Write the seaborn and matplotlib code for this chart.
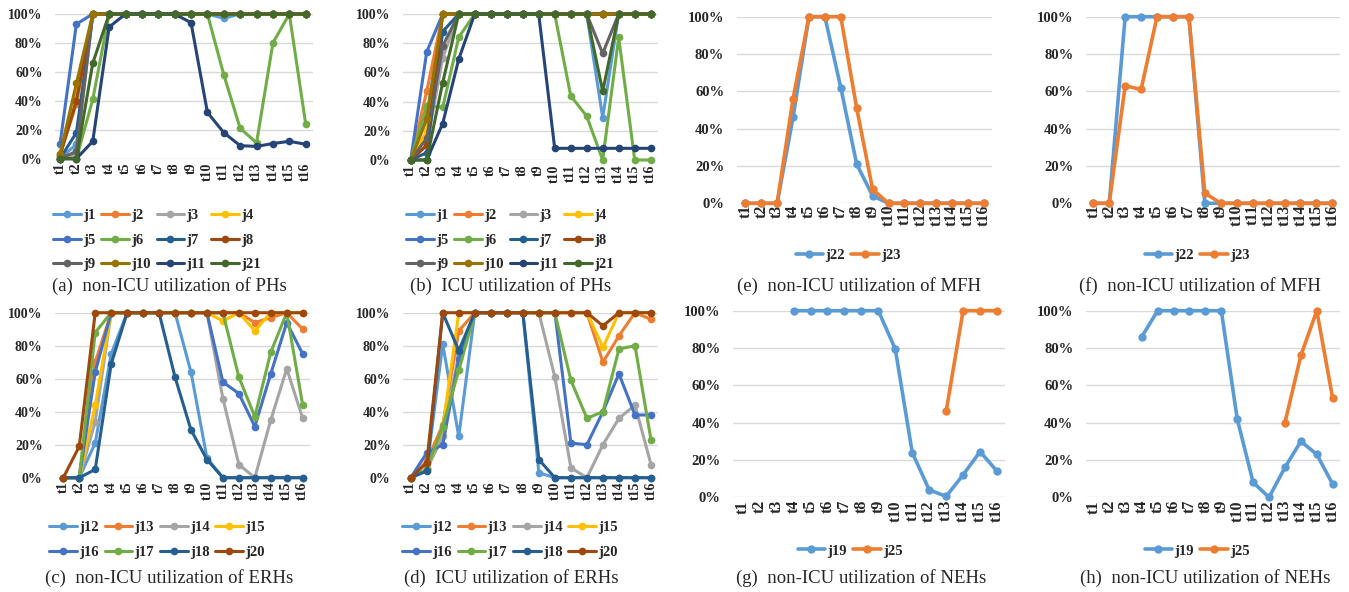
import numpy as np
import pandas as pd
import seaborn as sns
import matplotlib.pyplot as plt
from matplotlib.lines import Line2D
from matplotlib.ticker import PercentFormatter

# time periods on the x axis
periods = ['t%d' % i for i in range(1, 17)]
nan = np.nan

# (a) non-ICU utilization of PHs (%)
a_j1 = [0, 10, 100, 100, 100, 100, 100, 100, 100, 100, 97, 100, 100, 100, 100, 100]
a_j2 = [3, 38, 100, 100, 100, 100, 100, 100, 100, 100, 100, 100, 100, 100, 100, 100]
a_j3 = [0, 3, 100, 100, 100, 100, 100, 100, 100, 100, 100, 100, 100, 100, 100, 100]
a_j4 = [2, 45, 100, 100, 100, 100, 100, 100, 100, 100, 100, 100, 100, 100, 100, 100]
a_j5 = [10, 93, 100, 100, 100, 100, 100, 100, 100, 100, 100, 100, 100, 100, 100, 100]
a_j6 = [0, 0, 41, 100, 100, 100, 100, 100, 100, 100, 58, 21, 11, 80, 100, 24]
a_j7 = [0, 18, 100, 100, 100, 100, 100, 100, 100, 100, 100, 100, 100, 100, 100, 100]
a_j8 = [2, 40, 100, 100, 100, 100, 100, 100, 100, 100, 100, 100, 100, 100, 100, 100]
a_j9 = [0, 5, 100, 100, 100, 100, 100, 100, 100, 100, 100, 100, 100, 100, 100, 100]
a_j10 = [3, 52, 100, 100, 100, 100, 100, 100, 100, 100, 100, 100, 100, 100, 100, 100]
a_j11 = [0, 0, 12, 91, 100, 100, 100, 100, 94, 32, 18, 9, 8.5, 10.5, 12, 10]
a_j21 = [0, 0, 66, 100, 100, 100, 100, 100, 100, 100, 100, 100, 100, 100, 100, 100]

# (b) ICU utilization of PHs (%)
b_j1 = [0, 30, 100, 100, 100, 100, 100, 100, 100, 100, 100, 100, 29, 100, 100, 100]
b_j2 = [0, 47, 100, 100, 100, 100, 100, 100, 100, 100, 100, 100, 100, 100, 100, 100]
b_j3 = [0, 10, 70, 100, 100, 100, 100, 100, 100, 100, 100, 100, 100, 100, 100, 100]
b_j4 = [0, 20, 100, 100, 100, 100, 100, 100, 100, 100, 100, 100, 100, 100, 100, 100]
b_j5 = [0, 74, 100, 100, 100, 100, 100, 100, 100, 100, 100, 100, 100, 100, 100, 100]
b_j6 = [0, 37, 36, 84, 100, 100, 100, 100, 100, 100, 44, 30, 0, 84, 0, 0]
b_j7 = [0, 5, 88, 100, 100, 100, 100, 100, 100, 100, 100, 100, 100, 100, 100, 100]
b_j8 = [0, 10, 100, 100, 100, 100, 100, 100, 100, 100, 100, 100, 100, 100, 100, 100]
b_j9 = [0, 15, 78, 100, 100, 100, 100, 100, 100, 100, 100, 100, 73, 100, 100, 100]
b_j10 = [0, 28, 100, 100, 100, 100, 100, 100, 100, 100, 100, 100, 100, 100, 100, 100]
b_j11 = [0, 0, 25, 69, 100, 100, 100, 100, 100, 8, 8, 8, 8, 8, 8, 8]
b_j21 = [0, 0, 53, 100, 100, 100, 100, 100, 100, 100, 100, 100, 47, 100, 100, 100]

# (c) non-ICU utilization of ERHs (%)
c_j12 = [0, 0, 21, 75, 100, 100, 100, 100, 64, 12, 0, 0, 0, 0, 0, 0]
c_j13 = [0, 0, 70, 100, 100, 100, 100, 100, 100, 100, 100, 100, 94, 97, 100, 90]
c_j14 = [0, 0, 34, 100, 100, 100, 100, 100, 100, 100, 48, 8, 0, 35, 66, 36]
c_j15 = [0, 0, 44, 100, 100, 100, 100, 100, 100, 100, 95, 100, 89, 100, 100, 100]
c_j16 = [0, 0, 64, 100, 100, 100, 100, 100, 100, 100, 58, 51, 31, 63, 94, 75]
c_j17 = [0, 0, 88, 100, 100, 100, 100, 100, 100, 100, 100, 61, 37, 76, 100, 44]
c_j18 = [0, 0, 5, 69, 100, 100, 100, 61, 29, 11, 0, 0, 0, 0, 0, 0]
c_j20 = [0, 19, 100, 100, 100, 100, 100, 100, 100, 100, 100, 100, 100, 100, 100, 100]

# (d) ICU utilization of ERHs (%)
d_j12 = [0, 5, 81, 25, 100, 100, 100, 100, 3, 0, 0, 0, 0, 0, 0, 0]
d_j13 = [0, 10, 32, 89, 100, 100, 100, 100, 100, 100, 100, 100, 70, 86, 100, 96]
d_j14 = [0, 5, 25, 75, 100, 100, 100, 100, 100, 61, 6, 0, 20, 36, 44, 8]
d_j15 = [0, 5, 30, 100, 100, 100, 100, 100, 100, 100, 100, 100, 79, 100, 100, 100]
d_j16 = [0, 15, 20, 72, 100, 100, 100, 100, 100, 100, 21, 20, 40, 63, 38, 38]
d_j17 = [0, 5, 31, 65, 100, 100, 100, 100, 100, 100, 59, 36, 40, 78, 80, 23]
d_j18 = [0, 4, 100, 77, 100, 100, 100, 100, 11, 0, 0, 0, 0, 0, 0, 0]
d_j20 = [0, 9, 100, 100, 100, 100, 100, 100, 100, 100, 100, 100, 92, 100, 100, 100]

# (e) and (f) non-ICU utilization of MFH (%)
e_j22 = [0, 0, 0, 46, 100, 100, 62, 21, 4, 0, 0, 0, 0, 0, 0, 0]
e_j23 = [0, 0, 0, 56, 100, 100, 100, 51, 7.5, 0, 0, 0, 0, 0, 0, 0]
f_j22 = [0, 0, 100, 100, 100, 100, 100, 0, 0, 0, 0, 0, 0, 0, 0, 0]
f_j23 = [0, 0, 63, 61, 100, 100, 100, 5.5, 0, 0, 0, 0, 0, 0, 0, 0]

# (g) and (h) non-ICU utilization of NEHs (%)
g_j19 = [nan, nan, nan, 100, 100, 100, 100, 100, 100, 79.5, 24, 4, 0.5, 12, 24.5, 14]
g_j25 = [nan, nan, nan, nan, nan, nan, nan, nan, nan, nan, nan, nan, 46, 100, 100, 100]
h_j19 = [nan, nan, nan, 86, 100, 100, 100, 100, 100, 42, 8, 0, 16, 30, 23, 7]
h_j25 = [nan, nan, nan, nan, nan, nan, nan, nan, nan, nan, nan, nan, 40, 76, 100, 53]

colors = {
    'j1': '#5B9BD5', 'j2': '#ED7D31', 'j3': '#A5A5A5', 'j4': '#FFC000',
    'j5': '#4472C4', 'j6': '#70AD47', 'j7': '#255E91', 'j8': '#9E480E',
    'j9': '#636363', 'j10': '#997300', 'j11': '#264478', 'j21': '#43682B',
    'j12': '#5B9BD5', 'j13': '#ED7D31', 'j14': '#A5A5A5', 'j15': '#FFC000',
    'j16': '#4472C4', 'j17': '#70AD47', 'j18': '#255E91', 'j20': '#9E480E',
    'j22': '#5B9BD5', 'j23': '#ED7D31', 'j19': '#5B9BD5', 'j25': '#ED7D31',
}

sns.set_theme(style='white')
plt.rcParams['font.family'] = ['Liberation Serif', 'DejaVu Serif']

W, H = 1349, 592
fig = plt.figure(figsize=(W / 100, H / 100), dpi=100)


def draw(series, box, leg, ncol, caption, cap, lw=2.2, ms=5.5, fs=10, xfs=10, xpad=3):
    # box: x of t1, x of t16, y of 100%, y of 0%, grid left, grid right (pixels)
    t1, t16, y100, y0, gl, gr = box
    sp = (t16 - t1) / 15
    ax = fig.add_axes([gl / W, 1 - y0 / H, (gr - gl) / W, (y0 - y100) / H])
    names = [n for n, _ in series]
    df = pd.DataFrame({
        'job': np.repeat(names, 16),
        'period': np.tile(np.arange(16), len(names)),
        'util': np.concatenate([v for _, v in series]),
    }).dropna()
    sns.lineplot(data=df, x='period', y='util', hue='job', hue_order=names,
                 palette=colors, marker='o', markersize=ms, markeredgewidth=0,
                 linewidth=lw, legend=False, estimator=None, ax=ax, clip_on=False)
    ax.set_xlim((gl - t1) / sp, 15 + (gr - t16) / sp)
    ax.set_ylim(0, 100)
    ax.set_xticks(range(16))
    ax.set_xticklabels(periods, rotation=90, fontweight='bold', fontsize=xfs)
    ax.set_yticks([0, 20, 40, 60, 80, 100])
    ax.yaxis.set_major_formatter(PercentFormatter(100, decimals=0))
    for lab in ax.get_yticklabels():
        lab.set_fontweight('bold')
        lab.set_fontsize(fs)
    ax.tick_params(axis='y', length=0, pad=9)
    ax.tick_params(axis='x', length=0, pad=xpad)
    ax.yaxis.grid(True, color='#D9D9D9', linewidth=1)
    ax.xaxis.grid(False)
    ax.set_axisbelow(True)
    for s in ax.spines.values():
        s.set_visible(False)
    ax.set_xlabel('')
    ax.set_ylabel('')

    # legend filled row by row, like the original
    nrow = int(np.ceil(len(names) / ncol))
    order = [r * ncol + c for c in range(ncol) for r in range(nrow)]
    handles = [Line2D([], [], color=colors[names[i]], marker='o', markersize=ms,
                      markeredgewidth=0, linewidth=lw) for i in order]
    fig.legend(handles, [names[i] for i in order], loc='upper center', ncol=ncol,
               frameon=False, bbox_to_anchor=(leg[0] / W, 1 - leg[1] / H),
               prop={'weight': 'bold', 'size': 10.5}, handlelength=1.9,
               handletextpad=0.15, columnspacing=0.4, labelspacing=0.75,
               borderpad=0)
    fig.text(cap[0] / W, 1 - cap[1] / H, caption, ha='center', va='center',
             fontsize=13.5)


draw([('j1', a_j1), ('j2', a_j2), ('j3', a_j3), ('j4', a_j4), ('j5', a_j5),
      ('j6', a_j6), ('j7', a_j7), ('j8', a_j8), ('j9', a_j9), ('j10', a_j10),
      ('j11', a_j11), ('j21', a_j21)],
     (60, 305.7, 14, 158.7, 55, 313), (157, 202), 4,
     '(a)  non-ICU utilization of PHs', (169, 286))
draw([('j1', b_j1), ('j2', b_j2), ('j3', b_j3), ('j4', b_j4), ('j5', b_j5),
      ('j6', b_j6), ('j7', b_j7), ('j8', b_j8), ('j9', b_j9), ('j10', b_j10),
      ('j11', b_j11), ('j21', b_j21)],
     (410.7, 650.7, 14, 160, 403, 658), (510, 202), 4,
     '(b)  ICU utilization of PHs', (511, 286))
draw([('j12', c_j12), ('j13', c_j13), ('j14', c_j14), ('j15', c_j15),
      ('j16', c_j16), ('j17', c_j17), ('j18', c_j18), ('j20', c_j20)],
     (63.3, 302.7, 312.7, 477.7, 55, 310), (157, 514), 4,
     '(c)  non-ICU utilization of ERHs', (169, 578))
draw([('j12', d_j12), ('j13', d_j13), ('j14', d_j14), ('j15', d_j15),
      ('j16', d_j16), ('j17', d_j17), ('j18', d_j18), ('j20', d_j20)],
     (410.7, 651, 312.7, 477.7, 403, 658), (510, 514), 4,
     '(d)  ICU utilization of ERHs', (511, 578))
draw([('j22', e_j22), ('j23', e_j23)],
     (745.3, 984, 16.7, 203.3, 736.7, 991.7), (848, 242), 2,
     '(e)  non-ICU utilization of MFH', (859, 286), lw=2.6, ms=6, fs=10.5, xfs=11.5, xpad=1)
draw([('j22', f_j22), ('j23', f_j23)],
     (1093.3, 1332.3, 16.7, 203.3, 1086, 1340), (1197, 242), 2,
     '(f)  non-ICU utilization of MFH', (1200, 286), lw=2.6, ms=6, fs=10.5, xfs=11.5, xpad=1)
draw([('j19', g_j19), ('j25', g_j25)],
     (742.7, 997, 310.7, 497.3, 733, 1005), (850, 537), 2,
     '(g)  non-ICU utilization of NEHs', (861, 578), lw=2.6, ms=6, fs=10.5, xfs=11.5, xpad=2)
draw([('j19', h_j19), ('j25', h_j25)],
     (1094, 1332.7, 310.7, 497.3, 1086, 1340), (1197, 537), 2,
     '(h)  non-ICU utilization of NEHs', (1205, 578), lw=2.6, ms=6, fs=10.5, xfs=11.5, xpad=2)

fig.savefig('out.png', dpi=100)
